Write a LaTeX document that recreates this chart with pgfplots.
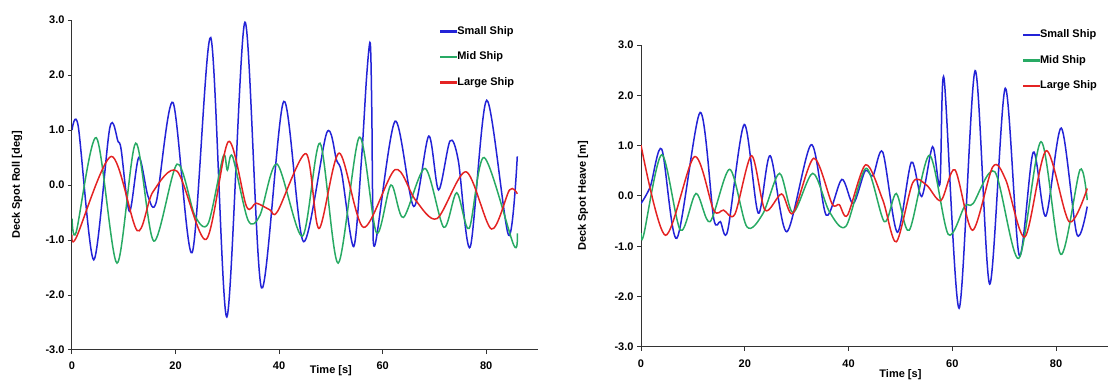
\documentclass[border=0pt]{standalone}
\usepackage{fontspec}
\setmainfont{Liberation Sans}
\usepackage{pgfplots}
\pgfplotsset{compat=1.18}
\definecolor{sblue}{RGB}{35,35,215}
\definecolor{sgreen}{RGB}{40,170,100}
\definecolor{sred}{RGB}{228,35,35}
\pgfplotsset{
  shipaxis/.style={
    scale only axis,
    xmin=0, xmax=90, ymin=-3, ymax=3,
    axis x line*=bottom, axis y line*=left,
    axis line style={line width=1pt, black!80},
    tick style={line width=1pt, black!80},
    tick align=outside, major tick length=4pt,
    xtick={0,20,40,60,80}, ytick={-3,-2,-1,0,1,2,3},
    /pgf/number format/assume math mode=true,
    tick label style={font=\bfseries\fontsize{11}{13}\selectfont},
    yticklabel style={/pgf/number format/.cd, fixed, fixed zerofill, precision=1},
    xticklabel style={yshift=-4pt},
    label style={font=\bfseries\fontsize{11}{13}\selectfont},
    legend image code/.code={\fill[#1, draw=none] (0pt,-1.2pt) rectangle (17pt,1.2pt);},
    legend cell align=left,
    legend style={draw=none, fill=none, inner sep=0pt, row sep=14pt,
      font=\bfseries\fontsize{11}{13}\selectfont,
      nodes={inner sep=0.5pt, text height=8pt, text depth=2.5pt}},
    every axis plot/.append style={line width=1.5pt, smooth, tension=0.5},
  }
}
\begin{document}
\begin{tikzpicture}
\path[use as bounding box] (0,0) rectangle (1117pt,380pt);
% ---------------- Left panel: roll ----------------
\begin{axis}[shipaxis,
  at={(72pt,30pt)}, anchor=south west,
  width=466pt, height=330pt,
  ylabel={Deck Spot Roll [deg]},
  ylabel style={at={(axis description cs:-0.118,0.5)}, anchor=center},
  xlabel={Time [s]},
  xlabel style={at={(axis cs:50,-3)}, anchor=north, yshift=-12pt},
  legend style={at={(axis cs:71,2.9)}, anchor=north west},
]
\addplot[sblue] coordinates {
(0,1.0)(1.2,1.07)(4.2,-1.36)(7.3,1.04)(8.9,0.79)(9.5,0.64)(11.1,-0.48)(12.9,0.50)
(14.7,-0.21)(16.3,-0.30)(19.5,1.50)(23.2,-1.23)(26.8,2.68)(29.9,-2.40)(33.4,2.96)
(36.6,-1.87)(40.9,1.52)(44.7,-1.03)(49.2,0.95)(51.1,0.45)(52.1,0.21)(54.4,-1.12)
(55.9,0.45)(56.9,1.97)(57.6,2.58)(57.9,1.36)(58.1,-0.45)(58.6,-1.06)(62.4,1.16)
(66.0,-0.39)(68.9,0.89)(70.8,-0.09)(73.0,0.80)(74.6,0.45)(76.9,-1.13)(80.1,1.54)
(84.3,-0.91)(86.0,0.52)};
\addlegendentry{Small Ship}
\addplot[sgreen] coordinates {
(0,-0.61)(0.8,-0.86)(4.7,0.86)(8.7,-1.42)(12.3,0.76)(15.8,-1.02)(20.3,0.38)
(23.7,-0.55)(26.3,-0.70)(29.2,0.52)(30.0,0.27)(31.0,0.52)(34.0,-0.64)(36.3,-0.55)
(39.6,0.38)(44.5,-0.93)(47.9,0.76)(51.4,-1.42)(55.5,0.87)(58.8,-0.87)(61.6,0.0)
(64.0,-0.59)(68.2,0.30)(71.8,-0.77)(74.3,-0.14)(76.7,-0.79)(79.6,0.50)(85.3,-1.09)
(86.0,-0.88)};
\addlegendentry{Mid Ship}
\addplot[sred] coordinates {
(0,-0.90)(0.8,-0.96)(7.6,0.52)(12.6,-0.83)(15.6,-0.13)(20.3,0.25)(25.9,-0.99)
(30.2,0.79)(33.7,-0.39)(35.6,-0.33)(38.2,-0.45)(39.7,-0.48)(45.2,0.57)(47.7,-0.79)
(51.6,0.58)(56.3,-0.77)(62.4,0.28)(66.3,-0.27)(70.5,-0.61)(76.1,0.24)(81.0,-0.80)
(84.5,-0.09)(86.0,-0.16)};
\addlegendentry{Large Ship}
\end{axis}
% ---------------- Right panel: heave ----------------
\begin{axis}[shipaxis,
  at={(641pt,33pt)}, anchor=south west,
  width=467pt, height=302pt,
  ylabel={Deck Spot Heave [m]},
  ylabel style={at={(axis description cs:-0.124,0.5)}, anchor=center},
  xlabel={Time [s]},
  xlabel style={at={(axis cs:50,-3)}, anchor=north, yshift=-19pt},
  xticklabel style={yshift=-1pt},
  legend style={at={(axis cs:73.5,3.32)}, anchor=north west},
]
\addplot[sblue] coordinates {
(0,-0.15)(1.8,0.19)(4.0,0.93)(6.9,-0.84)(11.4,1.66)(14.0,-0.44)(15.3,-0.51)
(16.7,-0.69)(19.9,1.42)(22.6,-0.34)(24.9,0.80)(28.1,-0.71)(32.8,1.02)(35.7,-0.38)
(38.7,0.33)(40.9,-0.15)(43.2,0.50)(44.7,0.40)(46.6,0.87)(49.4,-0.72)(52.1,0.67)
(54.1,-0.01)(56.2,0.98)(57.6,0.23)(58.4,2.34)(61.3,-2.23)(64.4,2.49)(67.2,-1.75)
(70.2,2.14)(72.9,-1.18)(75.6,0.87)(78.0,-0.40)(81.0,1.35)(84.0,-0.76)(86.0,-0.21)};
\addlegendentry{Small Ship}
\addplot[sgreen] coordinates {
(0,-0.74)(0.5,-0.78)(4.0,0.82)(7.6,-0.68)(10.6,0.05)(13.3,-0.51)(17.1,0.53)
(20.4,-0.61)(23.5,-0.35)(26.7,0.45)(29.3,-0.33)(33.1,0.45)(36.3,-0.31)(39.5,-0.60)
(43.4,0.55)(46.9,-0.51)(49.2,0.05)(51.7,-0.68)(55.6,0.81)(59.2,-0.76)(62.4,-0.20)
(64.0,-0.15)(68.2,0.48)(72.8,-1.24)(77.1,1.08)(80.9,-1.16)(84.6,0.52)(86.0,-0.08)};
\addlegendentry{Mid Ship}
\addplot[sred] coordinates {
(0,1.01)(4.7,-0.78)(10.3,0.78)(14.0,-0.28)(15.9,-0.28)(18.1,-0.36)(21.3,0.80)
(23.9,-0.28)(27.1,0.04)(29.3,-0.34)(33.3,0.75)(36.8,-0.15)(38.2,-0.17)(39.8,-0.38)
(43.3,0.62)(46.6,-0.08)(49.2,-0.91)(52.4,0.27)(55.0,0.22)(57.8,-0.09)(60.5,0.52)
(63.9,-0.68)(67.8,0.58)(70.3,0.32)(74.0,-0.81)(78.1,0.90)(82.5,-0.51)(86.0,0.15)};
\addlegendentry{Large Ship}
\end{axis}
\end{tikzpicture}
\end{document}
